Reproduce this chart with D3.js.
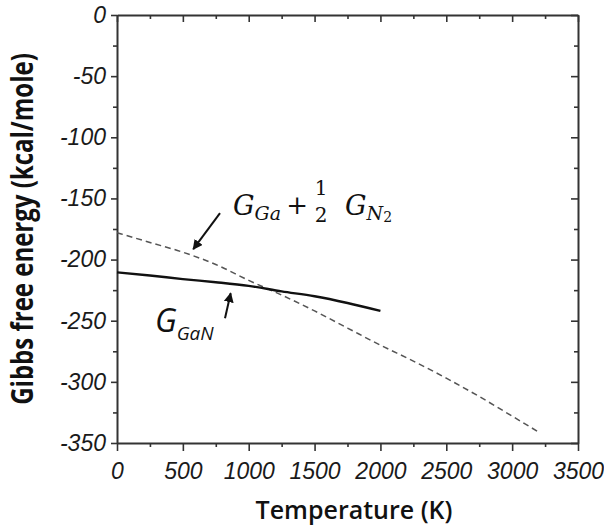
<!DOCTYPE html>
<html>
<head>
<meta charset="utf-8">
<script src="https://cdn.jsdelivr.net/npm/d3@7"></script>
<style>
  body { margin: 0; background: #fff; }
  svg { display: block; }
</style>
</head>
<body>
<div id="chart"></div>
<script>
// Temperature (K) and Gibbs free energy (kcal/mole)
const ganTemps = [0, 250, 500, 750, 1000, 1250, 1500, 1750, 2000];
const ganEnergy = [-210.5, -213, -216, -218.5, -221.5, -226, -230, -235.5, -242];
const elemTemps = [0, 250, 500, 750, 1000, 1250, 1500, 1750, 2000, 2250, 2500, 2750, 3000, 3200];
const elemEnergy = [-178, -186, -194, -204, -217, -229, -242, -256, -270, -283, -297, -312, -328, -341];
const xTicks = [0, 500, 1000, 1500, 2000, 2500, 3000, 3500];
const yTicks = [0, -50, -100, -150, -200, -250, -300, -350];

//Setup Dimensions
const width = 604;
const height = 531;
const margin = { top: 15, right: 26, bottom: 88, left: 117 };

const svg = d3.select("#chart")
    .append("svg")
    .attr("width", width)
    .attr("height", height);

const x = d3.scaleLinear().domain([0, 3500]).range([margin.left, width - margin.right]);
const y = d3.scaleLinear().domain([-350, 0]).range([height - margin.bottom, margin.top]);

const xMinor = d3.range(250, 3500, 500);
const yMinor = d3.range(-25, -350, -50);
const axisColor = "#333";

function styleAxis(g) {
    g.select(".domain").attr("stroke", axisColor).attr("stroke-width", 2);
    g.selectAll(".tick line").attr("stroke", axisColor).attr("stroke-width", 1.6);
    g.selectAll(".tick text")
        .attr("fill", "#1a1a1a")
        .style("font-family", "'Liberation Sans', Arial, sans-serif")
        .style("font-style", "italic")
        .style("font-size", "23px");
}

//Bottom axis (major + minor)
svg.append("g")
    .attr("transform", `translate(0,${y(-350)})`)
    .call(d3.axisBottom(x).tickValues(xTicks).tickSize(8).tickSizeOuter(0).tickPadding(12).tickFormat(d => String(d)))
    .call(styleAxis);
svg.append("g")
    .attr("transform", `translate(0,${y(-350)})`)
    .call(d3.axisBottom(x).tickValues(xMinor).tickSize(4).tickFormat(""))
    .call(styleAxis)
    .select(".domain").remove();

//Left axis
svg.append("g")
    .attr("transform", `translate(${x(0)},0)`)
    .call(d3.axisLeft(y).tickValues(yTicks).tickSize(6).tickSizeOuter(0).tickPadding(5).tickFormat(d => String(d)))
    .call(styleAxis);
svg.append("g")
    .attr("transform", `translate(${x(0)},0)`)
    .call(d3.axisLeft(y).tickValues(yMinor).tickSize(4).tickFormat(""))
    .call(styleAxis)
    .select(".domain").remove();

//Top frame, ticks pointing in
svg.append("g")
    .attr("transform", `translate(0,${y(0)})`)
    .call(d3.axisBottom(x).tickValues(xTicks).tickSize(7).tickSizeOuter(0).tickFormat(""))
    .call(styleAxis);
svg.append("g")
    .attr("transform", `translate(0,${y(0)})`)
    .call(d3.axisBottom(x).tickValues(xMinor).tickSize(4).tickFormat(""))
    .call(styleAxis)
    .select(".domain").remove();

//Right frame, ticks pointing in
svg.append("g")
    .attr("transform", `translate(${x(3500)},0)`)
    .call(d3.axisLeft(y).tickValues(yTicks).tickSize(7).tickSizeOuter(0).tickFormat(""))
    .call(styleAxis);
svg.append("g")
    .attr("transform", `translate(${x(3500)},0)`)
    .call(d3.axisLeft(y).tickValues(yMinor).tickSize(4).tickFormat(""))
    .call(styleAxis)
    .select(".domain").remove();

//Lines
const line = d3.line()
    .x(d => x(d[0]))
    .y(d => y(d[1]))
    .curve(d3.curveMonotoneX);

svg.append("path")
    .datum(d3.zip(elemTemps, elemEnergy))
    .attr("fill", "none")
    .attr("stroke", "#555")
    .attr("stroke-width", 1.5)
    .attr("stroke-dasharray", "6,4")
    .attr("d", line);

svg.append("path")
    .datum(d3.zip(ganTemps, ganEnergy))
    .attr("fill", "none")
    .attr("stroke", "#111")
    .attr("stroke-width", 2.4)
    .attr("d", line);

//Arrows
svg.append("defs").append("marker")
    .attr("id", "head")
    .attr("viewBox", "0 0 10 10")
    .attr("refX", 9).attr("refY", 5)
    .attr("markerWidth", 10).attr("markerHeight", 10)
    .attr("markerUnits", "userSpaceOnUse")
    .attr("orient", "auto")
    .append("path")
    .attr("d", "M0,0 L10,5 L0,10 Z")
    .attr("fill", "#111");

const arrows = [
    { from: [782, -162], to: [579, -191.5] },
    { from: [820, -248], to: [863, -227.5] }
];
svg.selectAll(".arrow")
    .data(arrows)
    .enter().append("line")
    .attr("class", "arrow")
    .attr("x1", d => x(d.from[0])).attr("y1", d => y(d.from[1]))
    .attr("x2", d => x(d.to[0])).attr("y2", d => y(d.to[1]))
    .attr("stroke", "#111")
    .attr("stroke-width", 2)
    .attr("marker-end", "url(#head)");

//Label: G_Ga + 1/2 G_N2
const serif = "'DejaVu Serif', 'Liberation Serif', serif";
const l1 = svg.append("g")
    .attr("transform", `translate(${x(881)},${y(-163.5)})`)
    .style("font-family", serif)
    .attr("fill", "#111");
const t1 = l1.append("text").style("font-style", "italic").style("font-size", "27px");
t1.append("tspan").text("G");
t1.append("tspan").attr("dy", 5).style("font-size", "19px").text("Ga");
l1.append("text").attr("x", 64).attr("y", -1).attr("text-anchor", "middle").style("font-size", "26px").text("+");
l1.append("text").attr("x", 88).attr("y", -20).attr("text-anchor", "middle").style("font-size", "20px").text("1");
l1.append("text").attr("x", 88).attr("y", 7).attr("text-anchor", "middle").style("font-size", "20px").text("2");
const t2 = l1.append("text").attr("x", 112).style("font-style", "italic").style("font-size", "27px");
t2.append("tspan").text("G");
t2.append("tspan").attr("dy", 5).style("font-size", "19px").text("N");
t2.append("tspan").attr("dy", 2).style("font-size", "14px").style("font-style", "normal").text("2");

//Label: G_GaN
const l2 = svg.append("text")
    .attr("transform", `translate(${x(288)},${y(-259)})`)
    .style("font-family", "'Open Sans', sans-serif")
    .style("font-style", "italic")
    .attr("fill", "#111");
l2.append("tspan").style("font-size", "32px").text("G");
l2.append("tspan").attr("dy", 8).style("font-size", "19px").text("GaN");

//Axis titles
svg.append("text")
    .attr("x", 354)
    .attr("y", 519)
    .attr("text-anchor", "middle")
    .style("font-family", "'Open Sans', sans-serif")
    .style("font-weight", 600)
    .style("font-size", "25px")
    .attr("fill", "#111")
    .text("Temperature (K)");

svg.append("text")
    .attr("transform", "translate(33,229) rotate(-90) scale(1,1.25)")
    .attr("text-anchor", "middle")
    .style("font-family", "'Open Sans', sans-serif")
    .style("font-weight", 700)
    .style("font-size", "24px")
    .attr("fill", "#111")
    .text("Gibbs free energy (kcal/mole)");
</script>
</body>
</html>
